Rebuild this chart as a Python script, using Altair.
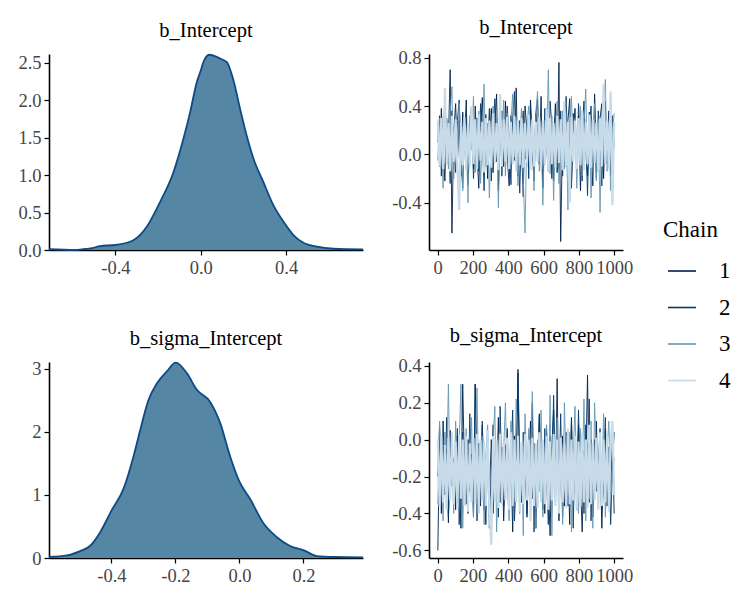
import altair as alt
import pandas as pd

FONT = "Times New Roman, Liberation Serif, Times, serif"
FILL = "#5586a3"
EDGE = "#0d4a86"
CHAIN_COLORS = ["#011f4b", "#03396c", "#6497b1", "#c8dbe9"]
CHAIN_WIDTHS = [0.9, 0.9, 0.9, 2.2]
CHAINS = ["1", "2", "3", "4"]

# ---------------- density curves ----------------
int_x = [-0.711, -0.59, -0.55, -0.503, -0.472, -0.40, -0.316, -0.253, -0.191, -0.128,
         -0.081, -0.05, -0.019, 0.0, 0.012, 0.04, 0.09, 0.122, 0.153, 0.184, 0.215,
         0.247, 0.293, 0.34, 0.387, 0.434, 0.481, 0.544, 0.622, 0.76]
int_d = [0.01, 0.0, 0.01, 0.03, 0.053, 0.067, 0.13, 0.31, 0.64, 1.04,
         1.49, 1.84, 2.24, 2.40, 2.51, 2.61, 2.56, 2.51, 2.27, 1.89, 1.53,
         1.22, 0.91, 0.60, 0.38, 0.20, 0.097, 0.044, 0.017, 0.008]

sig_x = [-0.595, -0.539, -0.498, -0.467, -0.435, -0.399, -0.362, -0.331, -0.31, -0.284,
         -0.258, -0.227, -0.199, -0.164, -0.133, -0.092, -0.06, -0.029, 0.0, 0.033,
         0.075, 0.117, 0.158, 0.202, 0.242, 0.294, 0.386]
sig_d = [0.016, 0.04, 0.11, 0.19, 0.41, 0.76, 1.10, 1.61, 2.03, 2.51,
         2.77, 2.96, 3.10, 2.93, 2.67, 2.48, 2.14, 1.61, 1.21, 0.94,
         0.55, 0.33, 0.19, 0.12, 0.03, 0.016, 0.01]

# ---------------- trace draws (thinned, values in hundredths) ----------------
iterations = [1, 11, 21, 31, 41, 51, 61, 71, 81, 91, 102, 112, 122, 132, 142, 152, 162, 172, 182, 192,
              203, 213, 223, 233, 243, 253, 263, 273, 283, 293, 304, 314, 324, 334, 344, 354, 364, 374, 384, 394,
              405, 415, 425, 435, 445, 455, 465, 475, 485, 495, 506, 516, 526, 536, 546, 556, 566, 576, 586, 596,
              607, 617, 627, 637, 647, 657, 667, 677, 687, 697, 708, 718, 728, 738, 748, 758, 768, 778, 788, 798,
              809, 819, 829, 839, 849, 859, 869, 879, 889, 899, 910, 920, 930, 940, 950, 960, 970, 980, 990, 1000]

int_c1 = [25, -10, 38, 5, -22, 30, 12, 70, -65, 18, 42, -5, 28, -18, 35, 8, 45, -25, 15, 30,
          -12, 40, 2, -28, 22, 47, -8, 33, -20, 10, 38, -15, 26, 50, -30, 14, 36, -10, 44, 0,
          -26, 32, 18, -5, 55, -18, 28, 8, -35, 40, 20, -12, 45, 6, -22, 34, 15, -8, 48, -28,
          24, 38, -4, 30, -20, 12, 42, -15, 76, -72, 22, 36, -10, 28, 46, -24, 16, 38, -6, 32,
          -30, 20, 44, 4, -18, 35, 14, -26, 50, 8, -14, 30, 42, -20, 24, 10, 36, -16, 28, 18]
int_c2 = [10, 32, -18, 24, 40, -8, 20, -24, 36, 5, -15, 28, 45, 0, -28, 18, 34, -10, 22, 40,
          -20, 8, 30, -14, 42, 16, -30, 26, 4, 38, -22, 20, 46, -6, 12, 34, -18, 28, -2, 40,
          14, -25, 30, 52, -10, 22, -32, 18, 36, -4, 26, -20, 40, 10, -16, 33, 46, -8, 20, -26,
          38, 6, -14, 44, 24, -22, 30, 12, -12, 36, -18, 26, 48, -4, 14, -28, 34, 20, -10, 42,
          8, -22, 30, 16, -34, 24, 40, -6, 18, -20, 36, 12, -26, 28, 44, -8, 20, -18, 32, 6]
int_c3 = [-5, 30, 15, -28, 40, 22, -12, 35, 56, -20, 25, -8, 42, 10, -30, 28, 16, -40, 32, 4,
          48, -15, 20, 36, -24, 12, 58, -10, 26, -36, 18, 40, -6, 30, -44, 22, 8, 45, -18, 34,
          -12, 26, 50, -2, 30, -26, 14, 38, -20, -65, 24, 40, -8, 16, -30, 34, 52, -14, 22, -42,
          28, 6, 70, -16, 32, -38, 18, 44, -24, 10, 36, -12, 26, -46, 20, 48, -4, 30, -28, 14,
          40, -18, 24, 54, -10, 32, -36, 16, 42, -22, 28, -48, 20, 38, 62, -14, 26, -30, 18, 34]
int_c4 = [28, -10, 30, -12, 55, -8, 26, -14, 32, -6, 29, -11, -46, 27, -9, 31, -13, 25, -10, 40,
          -8, 29, -12, 33, -5, 27, -15, 30, -9, 28, -11, 34, -7, 26, -13, 50, -10, 29, -6, 31,
          -12, 27, -8, 32, -14, 28, -9, 30, -11, 26, -7, 33, -13, 29, -10, 27, -6, 31, -12, 28,
          -9, 38, -14, 30, -8, 26, -11, 32, -7, 29, -13, 44, -10, 27, -40, 31, -6, 28, -12, 30,
          -9, 36, -13, 27, -8, 33, -11, 29, -7, 26, -14, 30, -10, 58, -8, 28, -12, 52, -42, 27]

sig_c1 = [-60, 0, -40, 10, -30, -5, -45, 5, -25, -10, -38, 2, -20, -48, 30, -15, -35, 0, -28, -8,
          -42, 30, -18, -2, -36, 8, -24, -46, -6, -30, 0, -40, -12, -22, 12, -34, -4, -44, -16, 6,
          -30, -8, -50, 2, -20, 38, -36, -10, -26, 4, -42, -14, 10, -32, -2, -48, -18, 14, -28, -6,
          -40, 6, -22, -52, -4, 16, -30, 33, -44, -12, 2, -36, -20, -8, -46, 12, -26, -2, -38, 8,
          -24, -50, -6, -16, 35, -34, 0, -42, -14, 10, -30, -4, -48, -18, 6, -36, -10, -26, 2, -40]
sig_c2 = [-20, 8, -36, -4, -28, 12, -42, -10, 0, -32, -14, 6, -46, -22, 4, -34, -8, -40, 14, -18,
          -30, 30, -44, -6, -24, 10, -38, -12, 2, -48, -16, 8, -28, -2, -42, 18, -20, -36, -4, 0,
          -32, -10, 16, -44, -22, 36, -8, -34, 4, -18, -40, 0, -26, 20, -50, -6, -30, 12, -14, -38,
          6, -22, -46, 2, -16, 24, -34, -8, -28, 14, -42, -12, 4, -36, -20, 10, -48, -2, -24, 16,
          -32, -6, -40, 8, -18, 22, -44, -10, 0, -28, -14, 6, -38, -22, 12, -30, -4, -46, -16, 4]
sig_c3 = [-35, 10, -22, -44, 4, -16, 30, -30, -8, -40, 10, -26, -2, 30, -48, -12, 6, -36, -20, 12,
          -42, -4, 28, -32, -14, 2, -46, -10, 8, -28, -38, 0, 18, -50, -18, 4, -34, -6, 20, -24,
          -44, 10, -12, -30, 22, -8, -40, -2, -52, 14, -20, 6, -36, 26, -16, -48, 0, -28, 16, -42,
          -10, 8, -34, 24, -52, -4, -22, 12, -38, 2, -46, 20, -14, -30, 4, -50, -8, 18, -26, -40,
          6, -18, 22, -44, -2, -32, 10, -48, 20, -12, -36, 0, -24, 14, -42, -6, 10, -30, -20, -10]
sig_c4 = [0, -36, 2, -34, -3, -38, 1, -33, 4, -35, -1, -37, 3, -32, 0, -36, 2, -39, -2, -34,
          1, -35, 3, -40, 0, -33, -1, -36, 5, -38, -57, 2, -34, 0, -37, 3, -35, -2, -33, 1,
          -38, 4, -36, 0, -34, 2, -39, -1, -35, 3, -33, 0, -44, 1, -36, -2, -37, 4, -34, 0,
          -35, 2, -38, -1, -33, 3, -36, 0, -40, 1, -34, -2, -37, 6, -35, 0, -33, 2, -38, -1,
          -36, 3, -34, 0, -37, 8, -35, -2, -33, 1, -38, 4, -36, 0, -34, 2, -39, -1, 10, -30]


def long_frame(chains):
    rows = []
    for name, vals in zip(CHAINS, chains):
        for it, v in zip(iterations, vals):
            rows.append({"chain": name, "iter": it, "value": v / 100.0})
    return pd.DataFrame(rows)


df_int = long_frame([int_c1, int_c2, int_c3, int_c4])
df_sig = long_frame([sig_c1, sig_c2, sig_c3, sig_c4])

LBL_1F = "datum.value < 0 ? '-' + format(-datum.value, '.1f') : format(datum.value, '.1f')"
LBL_D = "format(datum.value, 'd')"
TICK_SIZE = 18.5


def axis(values, expr, extent):
    return alt.Axis(values=values, labelExpr=expr, title=None,
                    labelFont=FONT, labelFontSize=TICK_SIZE, labelColor="#454545",
                    minExtent=extent, maxExtent=extent)


def dens_chart(xs, ds, name, xdom, ydom, xticks, yticks, yexpr):
    df = pd.DataFrame({"x": xs, "d": ds})
    return alt.Chart(df, title=name).mark_area(
        color=FILL, opacity=1, interpolate="monotone",
        line=alt.OverlayMarkDef(color=EDGE, strokeWidth=1.8)
    ).encode(
        x=alt.X("x:Q", scale=alt.Scale(domain=xdom, nice=False, zero=False),
                axis=axis(xticks, LBL_1F, 26)),
        y=alt.Y("d:Q", scale=alt.Scale(domain=ydom, nice=False, zero=False),
                axis=axis(yticks, yexpr, 41)),
    ).properties(width=314, height=196)


def trace_chart(df, name, ydom, yticks):
    layers = []
    for c, w in zip(CHAINS, CHAIN_WIDTHS):
        layers.append(
            alt.Chart(df).transform_filter(alt.datum.chain == c).mark_line(strokeWidth=w).encode(
                x=alt.X("iter:Q", scale=alt.Scale(domain=[-49, 1050], nice=False, zero=False),
                        axis=axis([0, 200, 400, 600, 800, 1000], LBL_D, 26)),
                y=alt.Y("value:Q", scale=alt.Scale(domain=ydom, nice=False, zero=False),
                        axis=axis(yticks, LBL_1F, 44)),
                color=alt.Color("chain:N",
                                scale=alt.Scale(domain=CHAINS, range=CHAIN_COLORS),
                                legend=alt.Legend(title="Chain", orient="none",
                                                  legendX=614, legendY=165)),
            )
        )
    return alt.layer(*layers, title=name).properties(width=194, height=196)


d1 = dens_chart(int_x, int_d, "b_Intercept", [-0.711, 0.76], [0, 2.62],
                [-0.4, 0.0, 0.4], [0, 0.5, 1.0, 1.5, 2.0, 2.5], LBL_1F)
d2 = dens_chart(sig_x, sig_d, "b_sigma_Intercept", [-0.595, 0.386], [0, 3.11],
                [-0.4, -0.2, 0.0, 0.2], [0, 1, 2, 3], LBL_D)
t1 = trace_chart(df_int, "b_Intercept", [-0.79, 0.83], [-0.4, 0.0, 0.4, 0.8])
t2 = trace_chart(df_sig, "b_sigma_Intercept", [-0.641, 0.42], [-0.6, -0.4, -0.2, 0.0, 0.2, 0.4])

res = dict(x="independent", y="independent", color="shared")
row1 = alt.hconcat(d1, t1, spacing=18).resolve_scale(**res)
row2 = alt.hconcat(d2, t2, spacing=18).resolve_scale(**res)

chart = alt.vconcat(row1, row2, spacing=49).resolve_scale(**res).properties(
    padding={"left": 0, "top": 10, "right": 0, "bottom": 0},
).configure(
    font=FONT, background="white",
    style={"guide-label": {"font": FONT}, "guide-title": {"font": FONT},
           "group-title": {"font": FONT}},
).configure_view(
    stroke=None
).configure_axis(
    grid=False, domainColor="black", domainWidth=1.6, tickColor="black",
    tickWidth=1.2, tickSize=5, labelPadding=3,
    labelFont=FONT, labelFontSize=TICK_SIZE, labelColor="#454545",
    labelOverlap=False, labelFlush=False, labelBound=False,
).configure_title(
    font=FONT, fontSize=20.5, fontWeight="normal", color="black", offset=10, anchor="middle"
).configure_legend(
    titleFont=FONT, titleFontSize=23, titleFontWeight="normal", titleColor="black",
    titlePadding=14, labelFont=FONT, labelFontSize=23, labelColor="black",
    labelOffset=22, symbolType="stroke", symbolSize=784, symbolStrokeWidth=1.6,
    symbolOffset=4, rowPadding=9.5, padding=0,
)

chart.save("out.html", embed_options={"renderer": "svg", "actions": False})
